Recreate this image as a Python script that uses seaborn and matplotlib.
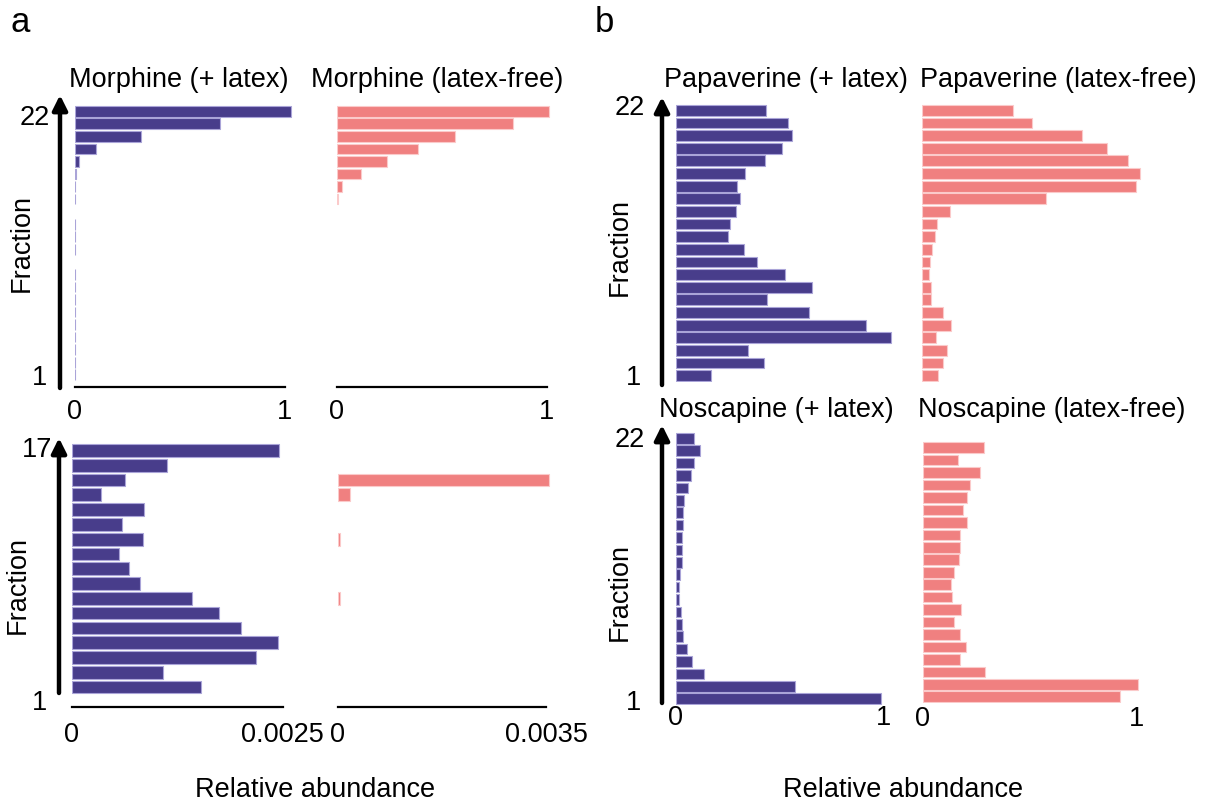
import matplotlib
matplotlib.use("Agg")
import pandas as pd
import seaborn as sns
from matplotlib import pyplot as plt
from matplotlib.patches import FancyArrowPatch

# relative abundance per fraction, listed from fraction 1 (bottom) upward
morphine_latex = [0.002, 0.002, 0.003, 0.003, 0.003, 0.003, 0.002, 0.002, 0.002, 0.0, 0.002,
                  0.002, 0.002, 0.0, 0.003, 0.003, 0.004, 0.020, 0.100, 0.316, 0.694, 1.032]
morphine_free = [0.0] * 14 + [0.005, 0.024, 0.114, 0.241, 0.389, 0.565, 0.841, 1.010]
papaverine_latex = [0.171, 0.425, 0.351, 1.042, 0.918, 0.644, 0.443, 0.660, 0.530, 0.395, 0.332,
                    0.251, 0.264, 0.293, 0.313, 0.298, 0.337, 0.430, 0.514, 0.564, 0.541, 0.436]
papaverine_free = [0.073, 0.098, 0.115, 0.064, 0.136, 0.095, 0.039, 0.041, 0.033, 0.036, 0.043,
                   0.061, 0.067, 0.128, 0.576, 0.997, 1.017, 0.959, 0.864, 0.748, 0.514, 0.425]
morphine_latex_2 = [0.001537, 0.001086, 0.00218, 0.002449, 0.002002, 0.00175, 0.001425, 0.000814,
                    0.000675, 0.000557, 0.000845, 0.000592, 0.000861, 0.000344, 0.000628,
                    0.001126, 0.002453]
morphine_free_2 = [0.0, 0.0, 0.0, 0.0, 0.0, 0.0, 0.000034, 0.0, 0.0, 0.0, 0.000034, 0.0, 0.0,
                   0.000207, 0.003545, 0.0, 0.0]
noscapine_latex = [0.992, 0.575, 0.135, 0.077, 0.052, 0.034, 0.028, 0.023, 0.014, 0.014, 0.021,
                   0.030, 0.028, 0.029, 0.032, 0.032, 0.039, 0.059, 0.071, 0.087, 0.117, 0.087]
noscapine_free = [0.922, 1.006, 0.290, 0.174, 0.200, 0.173, 0.148, 0.178, 0.136, 0.132, 0.145,
                  0.170, 0.173, 0.174, 0.207, 0.186, 0.207, 0.223, 0.270, 0.167, 0.285, 0.0]

PURPLE = "#483D8B"
PINK = "#F08080"
EDGES = {PURPLE: "#aaa4d8", PINK: "#fbcaca"}
FS = 19.5

W, H = 1207, 807


def fx(x):
    return x / W


def fy(y):
    return 1 - y / H


def panel(fig, values, color, x0, y_top, y_bot, scale, xmax, top_tick, xlabel_max,
          axis="bracket", offset=4, pad=3):
    ax = fig.add_axes([fx(x0), fy(y_bot), xmax * scale / W, (y_bot - y_top) / H])
    n = len(values)
    df = pd.DataFrame({"fraction": [str(i + 1) for i in range(n)], "value": values})
    order = [str(i) for i in range(n, 0, -1)]
    sns.barplot(data=df, x="value", y="fraction", order=order, orient="h", color=color,
                saturation=1, width=0.86, edgecolor=EDGES[color], linewidth=0.8, ax=ax)
    # empty fractions get no mark at all
    for bar in ax.patches:
        if bar.get_width() == 0:
            bar.set_visible(False)
    ax.set_xlim(0, xmax)
    ax.set_ylim(n - 0.5, -0.5)
    ax.set_xlabel("")
    ax.set_ylabel("")
    for side in ("top", "right", "left"):
        ax.spines[side].set_visible(False)
    ax.set_yticks([])
    ax.patch.set_alpha(0)

    bottom = ax.spines["bottom"]
    if axis == "bracket":
        bottom.set_bounds(0, top_tick)
        bottom.set_linewidth(1.6)
        bottom.set_color("black")
        bottom.set_position(("outward", offset))
        ax.set_xticks([0, top_tick])
        ax.set_xticklabels(["0", xlabel_max])
        ax.tick_params(axis="x", direction="out", length=6, width=1.6, pad=pad, labelsize=FS,
                       color="black", labelcolor="black")
    elif axis == "labels":
        bottom.set_visible(False)
        ax.set_xticks([0, top_tick])
        ax.set_xticklabels(["0", xlabel_max])
        ax.tick_params(axis="x", length=0, pad=pad, labelsize=FS, labelcolor="black")
    else:
        bottom.set_visible(False)
        ax.set_xticks([])
    return ax


def arrow(fig, x, y0, y1):
    fig.add_artist(FancyArrowPatch((fx(x), fy(y0)), (fx(x), fy(y1)),
                                   transform=fig.transFigure, arrowstyle="-|>",
                                   mutation_scale=22, lw=3.2, color="black",
                                   shrinkA=0, shrinkB=0))


sns.set_theme(style="white")
plt.rcParams["font.family"] = ["Liberation Sans", "DejaVu Sans"]
plt.rcParams["text.color"] = "black"

fig = plt.figure(figsize=(W / 100, H / 100), dpi=100)

panel(fig, morphine_latex, PURPLE, 74.7, 105, 381, 210, 1.06, 1, "1")
panel(fig, morphine_free, PINK, 336.7, 105, 381, 210, 1.06, 1, "1")
panel(fig, papaverine_latex, PURPLE, 675.7, 104, 382, 207, 1.07, 1, "1", axis="none")
panel(fig, papaverine_free, PINK, 922.3, 104, 382, 214, 1.04, 1, "1", axis="none")
panel(fig, morphine_latex_2, PURPLE, 71.7, 443, 694.5, 211 / 0.0025, 0.00265, 0.0025, "0.0025",
      offset=9, pad=5)
panel(fig, morphine_free_2, PINK, 338, 443, 694.5, 208 / 0.0035, 0.0037, 0.0035, "0.0035",
      offset=9, pad=5)
panel(fig, noscapine_latex, PURPLE, 676, 432, 705, 207, 1.05, 1, "1", axis="labels", pad=0)
panel(fig, noscapine_free, PINK, 922.7, 429, 703, 214, 1.04, 1, "1", axis="labels", pad=2)

arrow(fig, 60, 388, 95)
arrow(fig, 59, 693, 438)
arrow(fig, 662, 385, 97)
arrow(fig, 662, 703, 425)

titles = [("Morphine (+ latex)", 179, 80), ("Morphine (latex-free)", 437, 80),
          ("Papaverine (+ latex)", 786, 80), ("Papaverine (latex-free)", 1058, 80),
          ("Noscapine (+ latex)", 776, 410), ("Noscapine (latex-free)", 1052, 410)]
for text, x, y in titles:
    fig.text(fx(x), fy(y), text, ha="center", va="center", fontsize=FS)

# first and last fraction numbers beside each arrow
fraction_ends = [("22", 35, 118), ("1", 40, 378), ("17", 37, 450), ("1", 40, 703),
                 ("22", 630, 108), ("1", 633, 378), ("22", 630, 440), ("1", 633, 703)]
for text, x, y in fraction_ends:
    fig.text(fx(x), fy(y), text, ha="center", va="center", fontsize=FS)

for x, y in [(22, 243), (18, 585), (620, 247), (620, 592)]:
    fig.text(fx(x), fy(y), "Fraction", rotation=90, ha="center", va="center", fontsize=FS)

for x in (315, 903):
    fig.text(fx(x), fy(790), "Relative abundance", ha="center", va="center", fontsize=FS)

fig.text(fx(20), fy(22), "a", ha="center", va="center", fontsize=25)
fig.text(fx(604), fy(22), "b", ha="center", va="center", fontsize=25)

fig.savefig("out.png", dpi=100)
plt.close(fig)
